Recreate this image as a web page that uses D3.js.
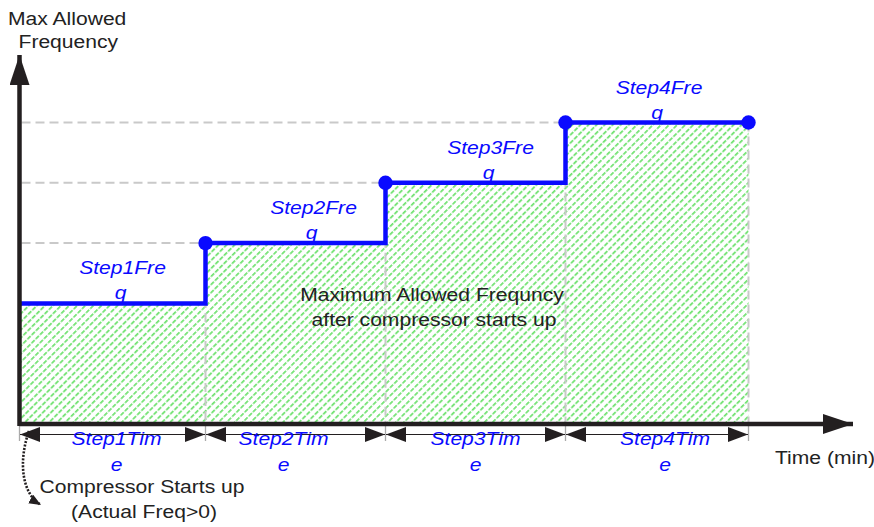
<!DOCTYPE html>
<html>
<head>
<meta charset="utf-8">
<script src="https://cdn.jsdelivr.net/npm/d3@7"></script>
<style>
  html, body { margin: 0; padding: 0; background: #fff; }
  svg { display: block; }
  text { font-family: "Liberation Sans", Arial, Helvetica, sans-serif; }
</style>
</head>
<body>
<svg id="chart" width="874" height="527"></svg>
<script>
// ---- data ----
const steps = ["Step1", "Step2", "Step3", "Step4"];
const stepTimes = [3.1, 3.0, 3.0, 3.05];      // duration of each step (min)
const stepFreqs = [2, 3, 4, 5];               // max allowed frequency level of each step
const freqLabelLines = [["Step1Fre", "q"], ["Step2Fre", "q"], ["Step3Fre", "q"], ["Step4Fre", "q"]];
const timeLabelLines = [["Step1Tim", "e"], ["Step2Tim", "e"], ["Step3Tim", "e"], ["Step4Tim", "e"]];
const yAxisTitle = ["Max Allowed", "Frequency"];
const xAxisTitle = "Time (min)";
const centerNote = ["Maximum Allowed Frequncy", "after compressor starts up"];
const startNote = ["Compressor Starts up", "(Actual Freq>0)"];

// ---- layout ----
const svg = d3.select("#chart");
const x0 = 19.5, axisY = 424;
const starts = Array.from(d3.cumsum([0].concat(stepTimes.slice(0, -1))));
const totalTime = d3.sum(stepTimes);
const x = d3.scaleLinear().domain([0, totalTime]).range([x0, x0 + 60 * totalTime]);
const y = d3.scaleLinear().domain([0, 6]).range([axisY, axisY - 6 * 60.3]);
const freqLabelDx = [10, 18, 15, 2];
const timeLabelDx = [4, -12, 0, 8];
const blue = "#0a0aff", ink = "#231f20", grayDash = "#c9c9c9";
const SX = 1.14;

const defs = svg.append("defs");
const pat = defs.append("pattern").attr("id", "hatch")
  .attr("patternUnits", "userSpaceOnUse").attr("width", 5.7).attr("height", 12)
  .attr("patternTransform", "rotate(45)");
pat.append("line").attr("x1", 2.8).attr("x2", 2.8).attr("y1", 0).attr("y2", 12)
  .attr("stroke", "#3fd83f").attr("stroke-width", 1.3).attr("stroke-dasharray", "4.5,1.5");

function marker(id, w, h) {
  defs.append("marker").attr("id", id).attr("viewBox", `0 0 ${w} ${h}`)
    .attr("refX", w).attr("refY", h / 2).attr("markerWidth", w).attr("markerHeight", h)
    .attr("markerUnits", "userSpaceOnUse").attr("orient", "auto-start-reverse")
    .append("path").attr("d", `M0,0L${w},${h / 2}L0,${h}Z`).attr("fill", ink);
}
marker("dimArrow", 20, 15);
marker("axisArrow", 30, 20);
marker("smallArrow", 12, 10);

// step points
const pts = steps.map((s, i) => ({ t: starts[i], f: stepFreqs[i] }));
pts.push({ t: totalTime, f: stepFreqs[stepFreqs.length - 1] });

// hatched area
const area = d3.area().curve(d3.curveStepAfter)
  .x(d => x(d.t)).y0(y(0)).y1(d => y(d.f));
svg.append("path").datum(pts).attr("d", area).attr("fill", "url(#hatch)");

// dashed guides
const g = svg.append("g").attr("stroke", grayDash).attr("stroke-width", 2).attr("fill", "none");
steps.forEach((s, i) => {
  if (i > 0) {
    g.append("line").attr("x1", x(0) + 2).attr("x2", x(starts[i])).attr("y1", y(stepFreqs[i])).attr("y2", y(stepFreqs[i]))
      .attr("stroke-dasharray", "9,5");
  }
});
const bounds = starts.concat([totalTime]);
bounds.forEach((t, i) => {
  if (i > 0) {
    const f = stepFreqs[Math.min(i, stepFreqs.length - 1)];
    g.append("line").attr("x1", x(t)).attr("x2", x(t)).attr("y1", y(f)).attr("y2", axisY)
      .attr("stroke-dasharray", "9,5");
  }
  g.append("line").attr("x1", x(t)).attr("x2", x(t)).attr("y1", axisY).attr("y2", axisY + 17)
    .attr("stroke", "#aaa").attr("stroke-width", 1.3);
});

// step line
const line = d3.line().curve(d3.curveStepAfter).x(d => x(d.t)).y(d => y(d.f));
svg.append("path").datum(pts).attr("d", line).attr("fill", "none")
  .attr("stroke", blue).attr("stroke-width", 4.5);
svg.selectAll("circle.dot").data(pts.slice(1)).join("circle").attr("class", "dot")
  .attr("cx", d => x(d.t)).attr("cy", d => y(d.f)).attr("r", 7.2).attr("fill", blue);

// axes
svg.append("line").attr("x1", x0).attr("x2", 853).attr("y1", axisY).attr("y2", axisY)
  .attr("stroke", ink).attr("stroke-width", 4.5).attr("marker-end", "url(#axisArrow)");
svg.append("line").attr("x1", x0).attr("x2", x0).attr("y1", axisY + 2).attr("y2", 55)
  .attr("stroke", ink).attr("stroke-width", 4.5).attr("marker-end", "url(#axisArrow)");

// dimension arrows
const dimY = 434.5;
steps.forEach((s, i) => {
  svg.append("line").attr("x1", x(starts[i]) + 0.5).attr("x2", x(starts[i] + stepTimes[i]) - 0.5)
    .attr("y1", dimY).attr("y2", dimY).attr("stroke", ink).attr("stroke-width", 1.2)
    .attr("marker-start", "url(#dimArrow)").attr("marker-end", "url(#dimArrow)");
});

// text helper (horizontally widened glyphs)
function txt(str, tx, ty, opts = {}) {
  return svg.append("text").text(str)
    .attr("transform", `translate(${tx},${ty}) scale(${SX},1)`)
    .attr("text-anchor", opts.anchor || "middle")
    .attr("font-size", opts.size || 18.5)
    .attr("font-style", opts.italic ? "italic" : "normal")
    .attr("fill", opts.color || "#222");
}

// frequency labels
freqLabelLines.forEach((ln, i) => {
  const cx = x(starts[i] + stepTimes[i] / 2) + freqLabelDx[i];
  const ly = y(stepFreqs[i]);
  txt(ln[0], cx, ly - 29, { italic: true, color: blue });
  txt(ln[1], cx - 2, ly - 4, { italic: true, color: blue });
});
// time labels
timeLabelLines.forEach((ln, i) => {
  const cx = x(starts[i] + stepTimes[i] / 2) + timeLabelDx[i];
  txt(ln[0], cx, 444.5, { italic: true, color: blue });
  txt(ln[1], cx, 471, { italic: true, color: blue });
});

// titles and notes
txt(yAxisTitle[0], 8, 25, { anchor: "start" });
txt(yAxisTitle[1], 18.5, 48, { anchor: "start" });
txt(xAxisTitle, 775, 464, { anchor: "start" });
txt(centerNote[0], 432, 300.5);
txt(centerNote[1], 434, 326);
txt(startNote[0], 142, 493);
txt(startNote[1], 144, 518);

// dotted curve from origin to note
svg.append("path").attr("d", "M29,431 C18,462 22,494 41,505")
  .attr("fill", "none").attr("stroke", ink).attr("stroke-width", 2.6)
  .attr("stroke-dasharray", "2,1.5").attr("marker-end", "url(#smallArrow)");
</script>
</body>
</html>
